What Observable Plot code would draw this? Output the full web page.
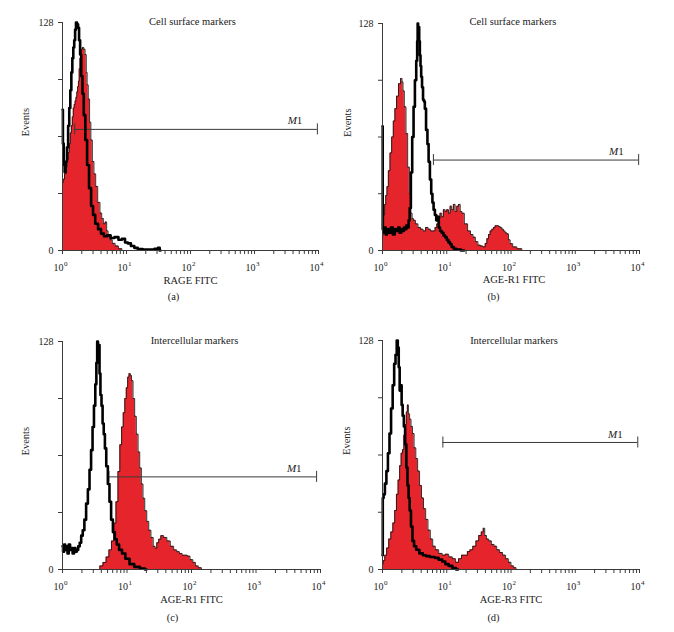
<!DOCTYPE html>
<html><head><meta charset="utf-8">
<script src="https://cdn.jsdelivr.net/npm/d3@7"></script>
<script src="https://cdn.jsdelivr.net/npm/@observablehq/plot@0.6"></script>
<style>
body{margin:0;background:#fff;}
#wrap{position:relative;width:674px;height:632px;overflow:hidden;}
.panel{position:absolute;}
.panel svg{display:block;overflow:visible;}
</style></head><body><div id="wrap"></div>
<script>
// ---- texts ----
const titles = ["Cell surface markers","Cell surface markers","Intercellular markers","Intercellular markers"];
const xLabels = ["RAGE FITC","AGE-R1 FITC","AGE-R1 FITC","AGE-R3 FITC"];
const tags = ["(a)","(b)","(c)","(d)"];
const yLabel = "Events";
const yTicks = [0,32,64,96,128];
const yTickLabels = ["0","","","","128"];
const decades = [1,10,100,1000,10000];
const exponents = ["0","1","2","3","4"];
const minorTicks = [2,3,4,5,6,7,8,9,20,30,40,50,60,70,80,90,200,300,400,500,600,700,800,900,2000,3000,4000,5000,6000,7000,8000,9000];

// ---- M1 gates ----
const m1Lo = [1.55, 6.2, 5.25, 8.7];
const m1Hi = [9600, 9700, 8700, 9400];
const m1Level = [68, 51, 52, 71];

// ---- panel (a) ----
const aRedX = [1.00,1.05,1.10,1.15,1.20,1.25,1.30,1.35,1.40,1.45,1.50,1.55,1.60,1.65,1.70,1.75,1.80,1.85,1.90,1.95,2.00,2.10,2.20,2.30,2.40,2.45,2.60,2.70,2.85,3.00,3.20,3.40,3.70,4.00,4.20,4.50,4.80,5.00,5.30,5.70,6.30,7.00,8.00,9.00];
const aRedY = [38,40,43,47,51,55,60,66,70,75,80,82,84,86,89,92,95,102,108,111,113,114,113,110,100,93,85,72,62,50,43,36,27,21,18,15,16,11,9,6,4,2.5,1,0];
const aBlackX = [1.00,1.03,1.06,1.10,1.15,1.20,1.25,1.30,1.35,1.40,1.45,1.50,1.55,1.60,1.65,1.72,1.78,1.85,1.92,2.00,2.10,2.20,2.35,2.50,2.70,2.90,3.10,3.40,3.80,4.20,4.70,5.30,6.00,7.00,8.00,9.00,10.0,11.0,12.5,14.0,16.0,20.0,25.0,30.0,32.0,34.0];
const aBlackY = [79,60,48,44,50,58,70,80,90,100,108,114,118,124,128,127,125,118,110,98,88,76,62,48,35,25,20,15,12,9.5,8,8.5,7,7.5,6,6.5,4.5,4,2.5,1.5,0.8,0.5,0.5,1,1.5,0];

// ---- panel (b) ----
const bRedX = [1.00,1.03,1.06,1.10,1.15,1.20,1.27,1.35,1.43,1.52,1.60,1.71,1.84,1.98,2.05,2.12,2.25,2.39,2.54,2.70,2.83,2.95,3.12,3.40,3.73,4.10,4.46,4.90,5.34,5.80,6.38,6.80,7.20,7.60,8.11,8.60,9.15,9.70,10.3,11.0,11.6,12.3,13.1,13.9,14.8,15.7,16.7,17.7,19.9,22.4,24.5,26.8,29.0,32.1,35.0,38.4,41.0,43.3,46.0,48.8,52.0,55.0,58.5,62.0,66.0,69.8,74.0,78.7,83.0,88.7,94.0,100,113,135,161];
const bRedY = [8,14,20,26,31,36,45,55,64,73,80,87,94,97,95,90,81,66,47,32,21,18,17,15,13,12,11,13,12,11,11,13,15,18,21,19,23,22,23,21,25,23,26,22,25,26,22,21,15,11,9,7.5,5,3,2.5,2,4,6.6,9,11,12,13,14,14,13.5,13,12,11,10,9.4,6,3.8,2,1,0];
const bBlackX = [1.00,1.015,1.05,1.10,1.15,1.20,1.30,1.40,1.50,1.60,1.70,1.80,1.90,2.00,2.10,2.20,2.30,2.40,2.50,2.60,2.70,2.83,2.97,3.12,3.27,3.43,3.50,3.55,3.62,3.68,3.77,3.86,3.95,4.05,4.20,4.35,4.50,4.62,4.91,5.10,5.34,5.60,5.87,6.10,6.38,6.70,7.03,7.40,7.64,8.10,8.61,9.20,9.70,10.3,10.9,11.6,12.3,13.5,14.7,18.6];
const bBlackY = [70,12,10,13,9,12,10,13,9,12,11,13,10,12,11,13,12,14,13,17,24,44,64,81,96,107,118,128,122,126,118,110,104,98,92,85,84,80,68,60,50,40,32,27,23,20,17,19,13,11,10,8.5,7.5,6,4.7,3.5,2,1,0.5,0];

// ---- panel (c) ----
const cRedX = [3.6,4.0,4.5,5.0,5.5,6.0,6.5,7.0,7.5,8.0,8.5,9.0,9.5,10.0,10.5,11.0,11.5,12.0,12.8,13.5,14.4,15.3,16.2,17.2,18.2,19.5,21.0,22.5,24.5,26.5,28.0,30.0,32.0,35.0,39.0,44.0,50.0,56.0,62.0,68.0,75.0,82.0,90.0,100,110,120,135,150];
const cRedY = [0,2,4,7,11,16,26,38,55,70,80,88,96,102,108,110,109,106,96,86,76,66,57,48,40,33,27,22,18,13,12,15,17,19,18,16,13,11,10,9,8,8,7.5,5.5,4,2,1,0];
const cBlackX = [1.00,1.04,1.08,1.12,1.17,1.22,1.28,1.34,1.40,1.47,1.55,1.62,1.70,1.80,1.90,2.00,2.12,2.25,2.40,2.55,2.70,2.85,3.00,3.15,3.30,3.40,3.50,3.60,3.70,3.80,3.95,4.10,4.27,4.45,4.64,4.90,5.20,5.50,5.85,6.25,6.70,7.20,7.90,8.90,10.0,12.0,14.0,18.0,20.0];
const cBlackY = [13,10,14,11,13,9,14,11,12,9,12,10,11,13,15,19,22,28,37,45,56,67,80,92,104,116,128,122,126,110,98,92,82,76,68,58,48,38,28,21,17,14,11,9,6,3,1.5,0.5,0];

// ---- panel (d) ----
const dRedX = [1.00,1.05,1.12,1.20,1.30,1.40,1.50,1.60,1.70,1.80,1.90,2.00,2.10,2.20,2.30,2.40,2.48,2.58,2.70,2.85,3.00,3.20,3.40,3.65,3.90,4.20,4.50,4.90,5.30,5.80,6.30,7.00,8.00,9.00,10.0,11.5,13.0,14.5,16.0,18.0,20.0,22.0,24.0,27.0,30.0,33.0,36.0,38.0,40.0,43.0,47.0,52.0,57.0,63.0,70.0,78.0,87.0,95.0,105,115,125];
const dRedY = [3,5,8,12,17,21,26,33,42,50,58,65,67,75,81,88,92,87,84,80,76,68,62,55,47,40,34,28,22,17,13,11,9,8,8.5,7,6,4,6,8,8,10,11,13,16,19,21,23,19,17,16,14,13,11,9.5,8,6,4,2,1,0];
const dBlackX = [1.00,1.02,1.06,1.12,1.18,1.25,1.32,1.40,1.48,1.56,1.63,1.70,1.76,1.82,1.88,1.95,2.02,2.10,2.20,2.30,2.40,2.50,2.60,2.70,2.85,3.00,3.20,3.50,4.00,4.50,5.00,6.00,7.00,8.00,9.00,10.0,11.5,13.0,15.0];
const dBlackY = [8,40,42,48,55,65,76,90,103,115,120,128,124,113,100,103,92,86,80,70,57,47,40,33,24,16,13,11,9,8,7.5,7,6.5,5.5,4.5,3,2,0.8,0];

// ---- build ----
const pts = (xs, ys) => xs.map((x, i) => ({x, y: ys[i]}));
const series = [
  [pts(aRedX, aRedY), pts(aBlackX, aBlackY)],
  [pts(bRedX, bRedY), pts(bBlackX, bBlackY)],
  [pts(cRedX, cRedY), pts(cBlackX, cBlackY)],
  [pts(dRedX, dRedY), pts(dBlackX, dBlackY)]
];
const RED = "#e5252b";
const AXIS = "#3a3a3a";
const FONT = "'Liberation Serif', 'DejaVu Serif', serif";

// layout of each panel (pixel geometry only)
const layout = [
  {left:0,   top:0,   ml:62, mr:19, mt:22, mb:66, evDx:-37, tDx:2, tDy:-5, lDx:0, lDy:33, gDx:-17,   gDy:49},
  {left:337, top:0,   ml:45, mr:35, mt:23, mb:66, evDx:-35, tDx:2, tDy:-6, lDx:3, lDy:32, gDx:-17.5, gDy:49},
  {left:0,   top:316, ml:62, mr:17, mt:25, mb:63, evDx:-37, tDx:3, tDy:-5, lDx:0, lDy:33, gDx:-19,   gDy:51},
  {left:337, top:316, ml:45, mr:35, mt:24, mb:63, evDx:-36, tDx:3, tDy:-4, lDx:0, lDy:33, gDx:-17.5, gDy:51}
];

const wrap = document.getElementById("wrap");
const decadeData = decades.map((v, i) => ({v, e: exponents[i]}));
const xTickData = decades.concat(minorTicks);
const yTickData = yTicks.map((v, i) => ({v, t: yTickLabels[i]}));

layout.forEach((L, i) => {
  const [red, black] = series[i];
  const gate = {lo: m1Lo[i], hi: m1Hi[i], level: m1Level[i]};
  const plotH = 316 - L.mt - L.mb, plotW = 337 - L.ml - L.mr;
  const tickY = 4 * 128 / plotH;                // 4px expressed in count units
  const tickX = Math.pow(10, -4 * 4 / plotW);   // 4px expressed on the log axis
  const capH = 5.5 * 128 / plotH;               // gate end-cap half height
  const chart = Plot.plot({
    width: 337, height: 316,
    marginLeft: L.ml, marginRight: L.mr, marginTop: L.mt, marginBottom: L.mb,
    style: {fontFamily: FONT, fontSize: "10px", color: "#222", background: "transparent"},
    x: {type: "log", domain: [1, 10000], axis: null},
    y: {domain: [0, 128], axis: null},
    marks: [
      Plot.areaY(red, {x: "x", y: "y", curve: "step", fill: RED}),
      Plot.lineY(red, {x: "x", y: "y", curve: "step", stroke: "#1a1a1a", strokeWidth: 0.9}),
      // M1 gate
      Plot.ruleY([gate], {y: "level", x1: "lo", x2: "hi", stroke: AXIS, strokeWidth: 1}),
      Plot.ruleX([gate], {x: "lo", y1: d => d.level - capH, y2: d => d.level + capH, stroke: AXIS}),
      Plot.ruleX([gate], {x: "hi", y1: d => d.level - capH, y2: d => d.level + capH, stroke: AXIS}),
      Plot.text([gate], {x: "hi", y: "level", text: () => "M", textAnchor: "end", dx: -20.5, dy: -8.5, fontStyle: "italic", fontSize: 11}),
      Plot.text([gate], {x: "hi", y: "level", text: () => "1", textAnchor: "end", dx: -15, dy: -8.5, fontSize: 11}),
      // control histogram (black)
      Plot.lineY(black, {x: "x", y: "y", curve: "step", stroke: "#000", strokeWidth: 2.6}),
      // axes: lines and ticks
      Plot.ruleY([0], {x1: 1, x2: 10000, stroke: AXIS}),
      Plot.ruleX([1], {y1: 0, y2: 128, stroke: AXIS}),
      Plot.ruleX(xTickData, {x: d => d, y1: 0, y2: -tickY, stroke: AXIS}),
      Plot.ruleY(yTickData, {y: "v", x1: 1, x2: tickX, stroke: AXIS}),
      Plot.text(yTickData, {x: () => 1, y: "v", text: "t", textAnchor: "end", dx: -9, fontSize: 10}),
      // decade tick labels 10^k
      Plot.text(decadeData, {x: "v", y: () => 0, text: () => "10", textAnchor: "end", dx: 1, dy: 17, fontSize: 10}),
      Plot.text(decadeData, {x: "v", y: () => 0, text: "e", textAnchor: "start", dx: 1.5, dy: 13.5, fontSize: 7}),
      // texts
      Plot.text([titles[i]], {frameAnchor: "top", dx: L.tDx, dy: L.tDy, fontSize: 10.5}),
      Plot.text([xLabels[i]], {frameAnchor: "bottom", dx: L.lDx, dy: L.lDy, fontSize: 10.5}),
      Plot.text([tags[i]], {frameAnchor: "bottom", dx: L.gDx, dy: L.gDy, fontSize: 10.5}),
      Plot.text([yLabel], {frameAnchor: "left", dx: L.evDx, rotate: -90, fontSize: 10.5})
    ]
  });
  const div = document.createElement("div");
  div.className = "panel";
  div.style.left = L.left + "px";
  div.style.top = L.top + "px";
  div.appendChild(chart);
  wrap.appendChild(div);
});
</script>
</body></html>
